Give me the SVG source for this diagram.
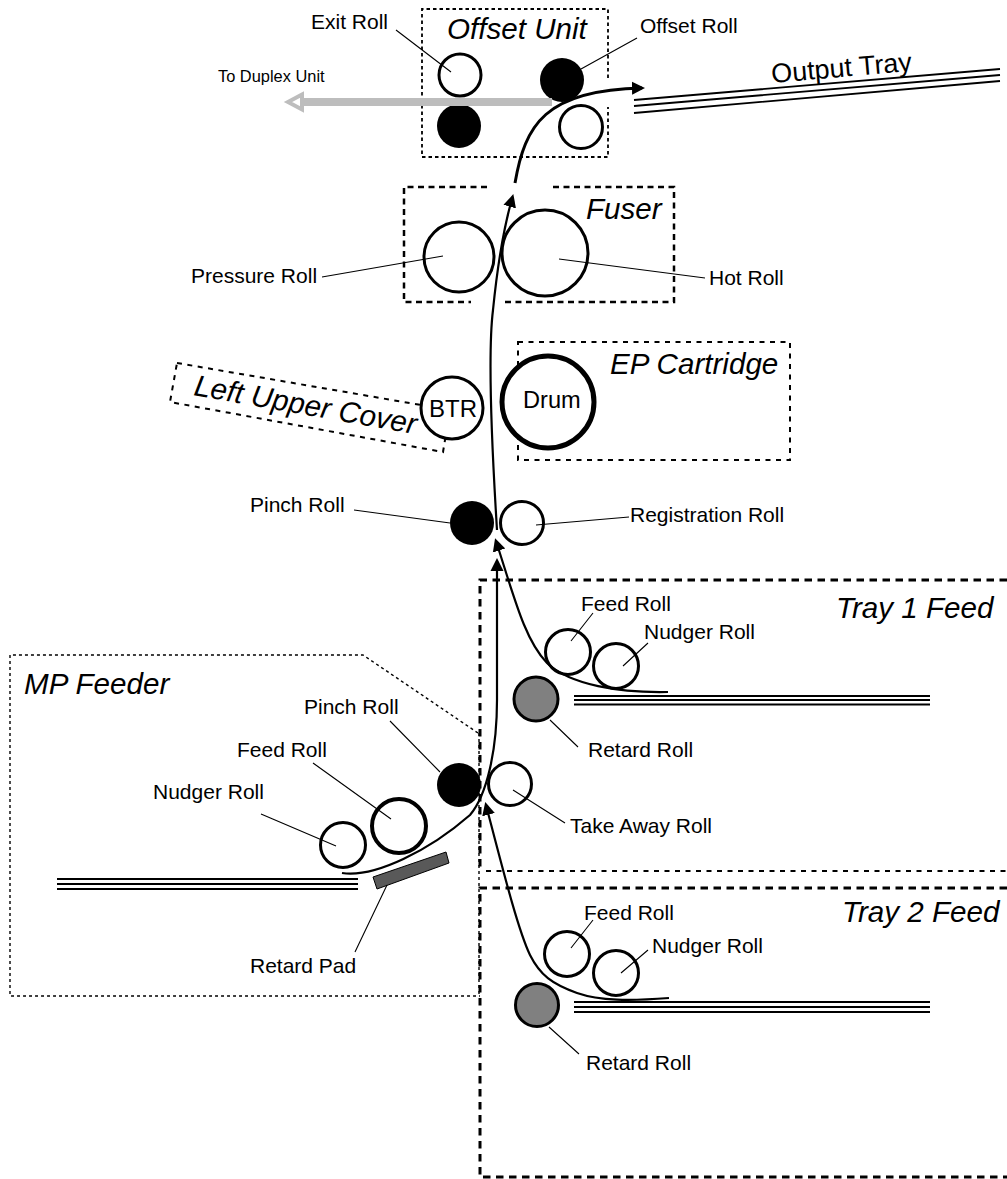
<svg xmlns="http://www.w3.org/2000/svg" width="1007" height="1179" viewBox="0 0 1007 1179">
<defs>
<marker id="ah" markerUnits="userSpaceOnUse" markerWidth="16" markerHeight="16" refX="10" refY="7" orient="auto"><path d="M0 0.5L13 7L0 13.5Z" fill="#000"/></marker>
</defs>
<style>
text{font-family:"Liberation Sans",Arial,sans-serif;fill:#000}
.l{font-size:21px}
.t{font-size:29.6px;font-style:italic}
.r{fill:#fff;stroke:#000;stroke-width:3px}
.k{fill:#000;stroke:none}
.g{fill:#808080;stroke:#000;stroke-width:3px}
.d{fill:none;stroke:#000;stroke-width:1.8px;stroke-dasharray:3.5 3}
.d2{fill:none;stroke:#000;stroke-width:2.5px;stroke-dasharray:6 4.5}
.d3{fill:none;stroke:#000;stroke-width:1.4px;stroke-dasharray:3 3}
.d4{fill:none;stroke:#000;stroke-width:2px;stroke-dasharray:5 5.5}
.d5{fill:none;stroke:#000;stroke-width:3px;stroke-dasharray:7.5 5.5}
.ld{fill:none;stroke:#000;stroke-width:1.1px}
.p{fill:none;stroke:#000;stroke-width:2.2px}
.tr{fill:none;stroke:#000;stroke-width:1.8px}
</style>
<g id="offset-unit"><path class="d" d="M608 78V9H422V157H608V107"/><text class="t" x="447" y="39">Offset Unit</text></g>
<g id="fuser"><path class="d2" d="M487 187H404V302H471M505 302H674V187H551"/><text class="t" x="586" y="219">Fuser</text></g>
<g id="ep-cartridge"><path class="d4" d="M518 342H790V460H518Z"/><text class="t" x="610" y="374">EP Cartridge</text></g>
<g id="left-upper-cover"><path class="d4" d="M177 363L450 410L443 452L170 402Z"/><text class="t" transform="translate(193 395) rotate(10)">Left Upper Cover</text></g>
<g id="mp-feeder"><path class="d3" d="M478 733L363 655H10V996H480"/><path class="d3" d="M479 733V996"/><text class="t" x="24" y="694">MP Feeder</text></g>
<g id="tray1-feed"><path class="d5" d="M1007 580H480V870"/><path class="d4" d="M486 871H1007"/><text class="t" x="836" y="618">Tray 1 Feed</text></g>
<g id="tray2-feed"><path class="d5" d="M1007 888H480V1177H1007"/><text class="t" x="842" y="922">Tray 2 Feed</text></g>
<g id="output-tray"><path class="tr" d="M634 100L1000 69M634 106L1000 75M634 113L1000 81"/><text transform="translate(772 83) rotate(-5)" style="font-size:27px">Output Tray</text></g>
<g id="exit-roll"><circle class="r" cx="460" cy="75" r="21"/><text class="l" x="311" y="29">Exit Roll</text></g>
<g id="offset-roll"><circle class="k" cx="562" cy="80" r="22"/><text class="l" x="640" y="33">Offset Roll</text></g>
<g id="offset-lower-left"><circle class="k" cx="459" cy="126" r="22"/></g>
<g id="offset-lower-right"><circle class="r" cx="581" cy="127" r="21.5"/></g>
<g id="to-duplex"><text x="218" y="82" style="font-size:16.4px">To Duplex Unit</text></g>
<g id="pressure-roll"><circle class="r" cx="459" cy="257" r="35"/><text class="l" x="191" y="283">Pressure Roll</text></g>
<g id="hot-roll"><circle class="r" cx="545" cy="253" r="43"/><text class="l" x="709" y="285">Hot Roll</text></g>
<g id="btr"><circle class="r" cx="452" cy="408" r="31"/><text x="429" y="417" style="font-size:24px">BTR</text></g>
<g id="drum"><circle fill="#fff" stroke="#000" stroke-width="5" cx="548" cy="402" r="46"/><text x="523" y="408" style="font-size:23.6px">Drum</text></g>
<g id="pinch-roll-upper"><circle class="k" cx="472" cy="523" r="22"/><text class="l" x="250" y="512">Pinch Roll</text></g>
<g id="registration-roll"><circle class="r" cx="522" cy="523" r="21.5"/><text class="l" x="630" y="522">Registration Roll</text></g>
<g id="tray1-feed-roll"><circle class="r" cx="568" cy="652" r="22.5"/><text class="l" x="581" y="611">Feed Roll</text></g>
<g id="tray1-nudger-roll"><circle class="r" cx="616" cy="666" r="22.5"/><text class="l" x="644" y="639">Nudger Roll</text></g>
<g id="tray1-retard-roll"><circle class="g" cx="536" cy="699" r="22"/><text class="l" x="588" y="757">Retard Roll</text></g>
<g id="tray1-stack"><path class="tr" d="M574 696H930M574 700H930M574 704.500H930"/></g>
<g id="take-away-roll"><circle class="r" cx="510" cy="784" r="21.500"/><text class="l" x="570" y="833">Take Away Roll</text></g>
<g id="mp-pinch-roll"><circle class="k" cx="459" cy="785" r="22"/><text class="l" x="304" y="714">Pinch Roll</text></g>
<g id="mp-feed-roll"><circle fill="#fff" stroke="#000" stroke-width="4" cx="399" cy="826" r="27"/><text class="l" x="237" y="757">Feed Roll</text></g>
<g id="mp-nudger-roll"><circle class="r" cx="343" cy="845" r="22.5"/><text class="l" x="153" y="799">Nudger Roll</text></g>
<g id="mp-stack"><path class="tr" d="M57 879H358M57 884H358M57 889H358"/></g>
<g id="retard-pad"><path d="M373 877L446 852L449 863L377 889Z" fill="#595959" stroke="#000"/><text class="l" x="250" y="973">Retard Pad</text></g>
<g id="tray2-feed-roll"><circle class="r" cx="567" cy="954" r="22.5"/><text class="l" x="584" y="920">Feed Roll</text></g>
<g id="tray2-nudger-roll"><circle class="r" cx="616" cy="973" r="22.5"/><text class="l" x="652" y="953">Nudger Roll</text></g>
<g id="tray2-retard-roll"><circle class="g" cx="537" cy="1005" r="21.500"/><text class="l" x="586" y="1070">Retard Roll</text></g>
<g id="tray2-stack"><path class="tr" d="M574 1002H930M574 1007H930M574 1012H930"/></g>
<g id="connectors">
<path class="ld" d="M396 30L451 72M637 38L581 69M322 277L443 256M705 278L559 259M354 510L450 523M629 517L536 525M593 613L571 641M648 643L623 666M550 720L578 747M513 790L565 823M390 721L440 772M313 763L391 819M261 814L336 846M387 885L355 952M593 920L571 948M648 950L621 973M549 1027L579 1054"/>
<path class="p" style="stroke-width:3px" d="M515 183C525 125 545 90 642 88" marker-end="url(#ah)"/>
<path class="p" d="M497 530C492 450 488 350 493 310C497 270 503 230 512.500 197" marker-end="url(#ah)"/>
<path class="p" d="M668 692C620 693 570 685 547 663C525 640 515 600 496 541" marker-end="url(#ah)"/>
<path class="p" d="M342 873C375 878 430 850 470 815C487 795 497 750 497 700L497 561" marker-end="url(#ah)"/>
<path class="p" d="M669 998C630 1001 600 1001 577 993C552 984 540 975 530 955C518 930 503 870 486 805" marker-end="url(#ah)"/>
<path d="M552 102H302" fill="none" stroke="#bdbdbd" stroke-width="8"/>
<path d="M302 94.500L288 102L302 109.500Z" fill="#fff" stroke="#bdbdbd" stroke-width="4"/>
</g>
</svg>
